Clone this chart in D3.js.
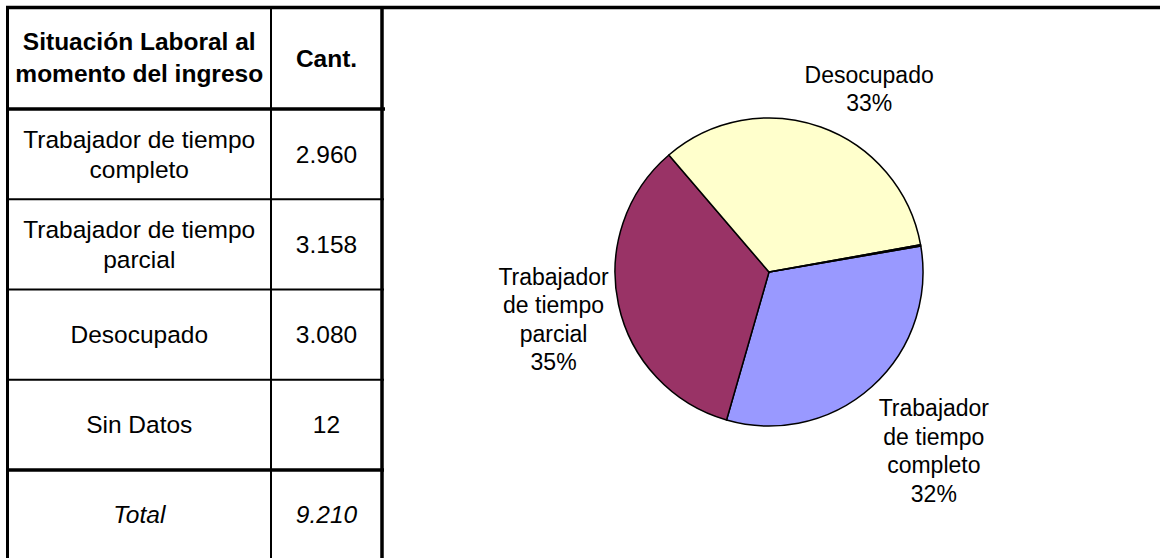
<!DOCTYPE html>
<html>
<head>
<meta charset="utf-8">
<script src="https://cdn.jsdelivr.net/npm/d3@7"></script>
<style>
  html, body { margin: 0; padding: 0; background: #fff; }
  svg { display: block; font-family: "Liberation Sans", Arial, sans-serif; }
</style>
</head>
<body>
<div id="chart"></div>
<script>
// Table / pie data
const headers = [["Situación Laboral al", "momento del ingreso"], ["Cant."]];
const categories = [
    ["Trabajador de tiempo", "completo"],
    ["Trabajador de tiempo", "parcial"],
    ["Desocupado"],
    ["Sin Datos"]
];
const counts = [2960, 3158, 3080, 12];
const totalLabel = "Total";
const total = 9210;

// pie labels as printed on the chart
const pieNames = [["Trabajador", "de tiempo", "completo"], ["Trabajador", "de tiempo", "parcial"], ["Desocupado"], []];
const piePct = ["32%", "35%", "33%", ""];
const pieColors = ["#9999FF", "#993366", "#FFFFCC", "#CCFFFF"];

const width = 1160;
const height = 558;
const fontSize = 24.5;    // table
const labelSize = 23;     // pie labels

const fmt = d3.formatLocale({ decimal: ",", thousands: ".", grouping: [3], currency: ["", ""] }).format(",d");

const svg = d3.select("#chart").append("svg")
    .attr("width", width)
    .attr("height", height);

// ---- table ----
const colX = [7.5, 271, 382];
const headTop = 7.5, headBottom = 109, rowH = 90.25;

// row scale: rows for categories + total
const rowNames = categories.map((d, i) => i).concat(["total"]);
const y = d3.scaleBand()
    .domain(rowNames)
    .range([headBottom, headBottom + rowH * rowNames.length]);

const colMid = [(colX[0] + colX[1]) / 2, (colX[1] + colX[2]) / 2];

// header text
const hdr = svg.append("g").attr("font-weight", "bold").attr("font-size", fontSize).attr("text-anchor", "middle");
headers.forEach((lines, c) => {
    const cy = c === 0 ? 57 : 58;
    lines.forEach((t, k) => {
        hdr.append("text")
            .attr("x", colMid[c])
            .attr("y", cy + (k - (lines.length - 1) / 2) * 32)
            .attr("dy", "0.35em")
            .text(t);
    });
});

// body rows
const body = svg.append("g").attr("font-size", fontSize).attr("text-anchor", "middle");
categories.forEach((lines, i) => {
    const cy = y(i) + y.bandwidth() / 2;
    lines.forEach((t, k) => {
        body.append("text")
            .attr("x", colMid[0])
            .attr("y", cy + (k - (lines.length - 1) / 2) * 30)
            .attr("dy", "0.35em")
            .text(t);
    });
    body.append("text")
        .attr("x", colMid[1])
        .attr("y", cy)
        .attr("dy", "0.35em")
        .text(fmt(counts[i]));
});
const ty = y("total") + y.bandwidth() / 2 - 1;
body.append("text").attr("x", colMid[0]).attr("y", ty).attr("dy", "0.35em")
    .attr("font-style", "italic").text(totalLabel);
body.append("text").attr("x", colMid[1]).attr("y", ty).attr("dy", "0.35em")
    .attr("font-style", "italic").text(fmt(total));

// grid lines
const lines = svg.append("g").attr("stroke", "#000");
// top border over whole width
lines.append("line").attr("x1", 6).attr("x2", width).attr("y1", headTop).attr("y2", headTop).attr("stroke-width", 3.5);
// outer left + table right border
lines.append("line").attr("x1", colX[0]).attr("x2", colX[0]).attr("y1", 6).attr("y2", height).attr("stroke-width", 3);
lines.append("line").attr("x1", colX[2]).attr("x2", colX[2]).attr("y1", 6).attr("y2", height).attr("stroke-width", 3.5);
// column divider
lines.append("line").attr("x1", colX[1]).attr("x2", colX[1]).attr("y1", headTop).attr("y2", height).attr("stroke-width", 2);
// header bottom
lines.append("line").attr("x1", 6).attr("x2", 385).attr("y1", headBottom).attr("y2", headBottom).attr("stroke-width", 3.5);
// row separators
rowNames.slice(1).forEach(r => {
    lines.append("line")
        .attr("x1", 6).attr("x2", 384)
        .attr("y1", y(r)).attr("y2", y(r))
        .attr("stroke-width", r === "total" ? 3.5 : 2);
});

// ---- pie ----
const cx = 769, cy = 272, radius = 154;
const start = 80.3 * Math.PI / 180;
const pie = d3.pie().sort(null).startAngle(start).endAngle(start + 2 * Math.PI);
const arcs = pie(counts);
const arc = d3.arc().innerRadius(0).outerRadius(radius);

const pg = svg.append("g").attr("transform", `translate(${cx},${cy})`);
pg.selectAll("path")
    .data(arcs)
    .join("path")
    .attr("d", arc)
    .attr("fill", (d, i) => pieColors[i])
    .attr("stroke", "#000")
    .attr("stroke-width", 1.5)
    .attr("stroke-linejoin", "round");

// labels outside, box touching the pie edge along the mid angle
const lineH = 28.5;
const labelG = pg.append("g").attr("font-size", labelSize).attr("text-anchor", "middle").attr("fill", "#000");
arcs.forEach((d, i) => {
    const txt = pieNames[i].concat(piePct[i] ? [piePct[i]] : []);
    if (!txt.length) return;
    const a = (d.startAngle + d.endAngle) / 2;
    const s = Math.sin(a), c = -Math.cos(a);
    const texts = txt.map(t => labelG.append("text").attr("dy", "0.35em").text(t));
    const w = d3.max(texts, t => t.node().getComputedTextLength());
    const h = txt.length * lineH;
    const k = 1 / Math.max(Math.abs(s), Math.abs(c));
    const gap = radius + 10;
    const bx = s * gap + s * k * w / 2 + (i === 2 ? 22 : i === 0 ? 6 : 0);
    const by = c * gap + c * k * h / 2;
    texts.forEach((t, j) => {
        t.attr("x", bx).attr("y", by + (j - (txt.length - 1) / 2) * lineH);
    });
});
</script>
</body>
</html>
